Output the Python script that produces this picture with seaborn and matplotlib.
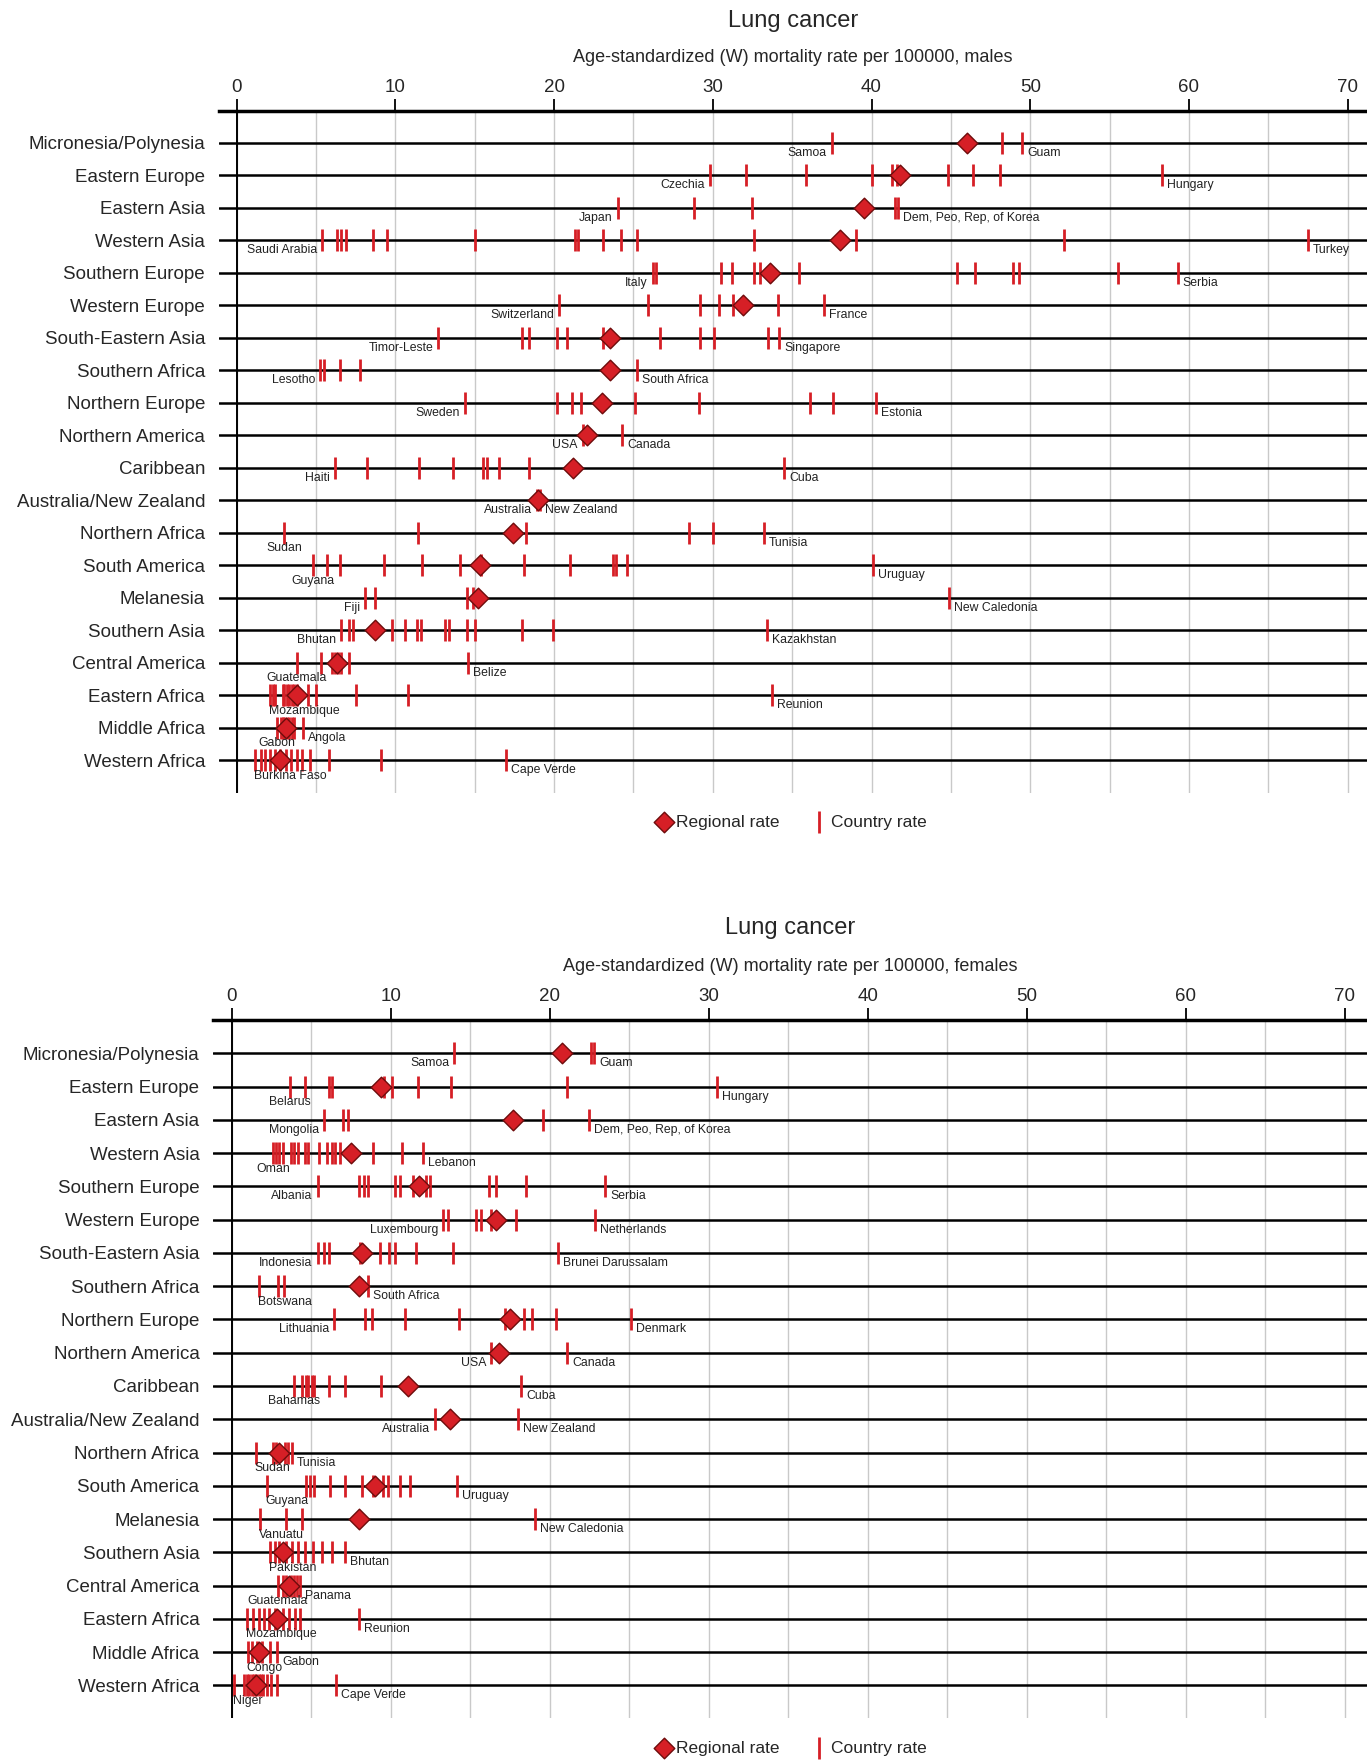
import pandas as pd
import matplotlib.pyplot as plt
import seaborn as sns
from matplotlib.ticker import MultipleLocator

# ---- data -------------------------------------------------------------
regions = ["Micronesia/Polynesia", "Eastern Europe", "Eastern Asia", "Western Asia",
           "Southern Europe", "Western Europe", "South-Eastern Asia", "Southern Africa",
           "Northern Europe", "Northern America", "Caribbean", "Australia/New Zealand",
           "Northern Africa", "South America", "Melanesia", "Southern Asia",
           "Central America", "Eastern Africa", "Middle Africa", "Western Africa"]

male_regional = [46.0, 41.8, 39.5, 38.0, 33.6, 31.9, 23.5, 23.5, 23.0, 22.1,
                 21.2, 19.0, 17.4, 15.3, 15.2, 8.7, 6.3, 3.8, 3.1, 2.7]
male_country = [
    [37.5, 48.2, 49.5],
    [29.8, 32.1, 35.9, 40.0, 41.3, 41.6, 44.8, 46.4, 48.1, 58.3],
    [24.0, 28.8, 32.5, 41.5, 41.7],
    [5.4, 6.3, 6.6, 6.9, 8.6, 9.5, 15.0, 21.3, 21.5, 23.1, 24.2, 25.2, 32.6, 39.0, 52.1, 67.5],
    [26.2, 26.4, 30.5, 31.2, 32.6, 33.0, 35.4, 45.4, 46.5, 48.9, 49.3, 55.5, 59.3],
    [20.3, 25.9, 29.2, 30.4, 31.3, 34.1, 37.0],
    [12.7, 18.0, 18.4, 20.2, 20.8, 23.1, 26.7, 29.2, 30.1, 33.5, 34.2],
    [5.25, 5.5, 6.5, 7.8, 25.2],
    [14.4, 20.2, 21.1, 21.7, 25.1, 29.1, 36.1, 37.6, 40.3],
    [21.8, 24.3],
    [6.2, 8.2, 11.5, 13.6, 15.5, 15.8, 16.5, 18.4, 34.5],
    [18.9, 19.1],
    [3.0, 11.4, 18.2, 28.5, 30.0, 33.2],
    [4.8, 5.7, 6.5, 9.3, 11.7, 14.1, 15.4, 18.1, 21.0, 23.7, 23.9, 24.6, 40.1],
    [8.1, 8.7, 14.5, 14.9, 44.9],
    [6.55, 7.1, 7.35, 9.8, 10.6, 11.35, 11.6, 13.1, 13.4, 14.5, 15.0, 18.0, 19.9, 33.4],
    [3.8, 5.3, 6.0, 6.2, 6.4, 6.6, 7.1, 14.6],
    [2.1, 2.3, 2.4, 2.9, 3.0, 3.2, 3.3, 3.5, 3.6, 3.8, 4.5, 5.0, 7.5, 10.8, 33.7],
    [2.55, 2.8, 2.9, 3.0, 3.2, 3.3, 3.5, 3.6, 4.2],
    [1.15, 1.5, 1.8, 2.1, 2.4, 2.7, 3.1, 3.4, 3.8, 4.1, 4.6, 5.8, 9.1, 17.0],
]
male_low = ["Samoa", "Czechia", "Japan", "Saudi Arabia", "Italy", "Switzerland",
            "Timor-Leste", "Lesotho", "Sweden", "USA", "Haiti", "Australia", "Sudan",
            "Guyana", "Fiji", "Bhutan", "Guatemala", "Mozambique", "Gabon", "Burkina Faso"]
male_high = ["Guam", "Hungary", "Dem, Peo, Rep, of Korea", "Turkey", "Serbia", "France",
             "Singapore", "South Africa", "Estonia", "Canada", "Cuba", "New Zealand",
             "Tunisia", "Uruguay", "New Caledonia", "Kazakhstan", "Belize", "Reunion",
             "Angola", "Cape Verde"]

female_regional = [20.8, 9.4, 17.7, 7.5, 11.8, 16.6, 8.2, 8.0, 17.5, 16.8,
                   11.1, 13.7, 3.0, 9.0, 8.0, 3.2, 3.6, 2.85, 1.7, 1.5]
female_country = [
    [14.0, 22.6, 22.8],
    [3.65, 4.6, 6.1, 6.3, 9.6, 10.1, 11.7, 13.8, 21.1, 30.5],
    [5.8, 7.0, 7.3, 19.6, 22.5],
    [2.6, 2.8, 3.0, 3.2, 3.7, 3.9, 4.2, 4.6, 4.8, 5.5, 6.0, 6.3, 6.5, 6.8, 8.9, 10.7, 12.0],
    [5.4, 8.0, 8.3, 8.6, 10.3, 10.6, 11.4, 12.2, 12.5, 16.2, 16.6, 18.5, 23.5],
    [13.3, 13.6, 15.35, 15.65, 16.3, 17.9, 22.85],
    [5.4, 5.8, 6.1, 8.1, 9.3, 9.9, 10.3, 11.6, 13.9, 20.5],
    [1.7, 2.9, 3.3, 8.6],
    [6.45, 8.4, 8.8, 10.9, 14.3, 17.2, 18.4, 18.9, 20.4, 25.1],
    [16.3, 21.1],
    [3.9, 4.45, 4.65, 4.8, 5.05, 5.2, 6.1, 7.1, 9.4, 18.2],
    [12.8, 18.0],
    [1.5, 2.6, 2.8, 3.35, 3.55, 3.8],
    [2.2, 4.65, 4.9, 5.2, 6.2, 7.1, 8.2, 8.9, 9.5, 9.8, 10.6, 11.2, 14.15],
    [1.75, 3.4, 4.45, 19.1],
    [2.4, 2.7, 3.0, 3.4, 3.8, 4.2, 4.6, 5.1, 5.7, 6.3, 7.15],
    [2.9, 3.2, 3.4, 3.7, 3.9, 4.1, 4.3],
    [0.95, 1.35, 1.7, 2.05, 2.35, 2.7, 3.2, 3.6, 3.95, 4.3, 8.0],
    [1.0, 1.3, 1.6, 1.9, 2.4, 2.85],
    [0.15, 0.8, 0.95, 1.1, 1.25, 1.4, 1.55, 1.7, 1.85, 2.0, 2.25, 2.5, 2.85, 6.55],
]
female_low = ["Samoa", "Belarus", "Mongolia", "Oman", "Albania", "Luxembourg",
              "Indonesia", "Botswana", "Lithuania", "USA", "Bahamas", "Australia", "Sudan",
              "Guyana", "Vanuatu", "Pakistan", "Guatemala", "Mozambique", "Congo", "Niger"]
female_high = ["Guam", "Hungary", "Dem, Peo, Rep, of Korea", "Lebanon", "Serbia",
               "Netherlands", "Brunei Darussalam", "South Africa", "Denmark", "Canada",
               "Cuba", "New Zealand", "Tunisia", "Uruguay", "New Caledonia", "Bhutan",
               "Panama", "Reunion", "Gabon", "Cape Verde"]

# ---- layout -----------------------------------------------------------
# where the low-end country name sits: L = left of tick, B = centred below, BL = below, from tick
male_low_mode = ["L"] * 12 + ["B", "B", "L", "L", "B", "BL", "B", "BL"]
female_low_mode = ["L", "B", "L", "B", "L", "L", "L", "BL", "L", "L", "B", "L",
                   "BL", "BL", "BL", "BL", "B", "BL", "BL", "BL"]

W, H = 1367, 1762
PX = 0.72  # points per pixel at dpi 100
RED = '#d61f26'
EDGE = '#6e0c0c'

sns.set_style("white")
plt.rcParams['font.family'] = ['Liberation Sans', 'DejaVu Sans']

fig = plt.figure(figsize=(W / 100, H / 100), dpi=100)

offsets = {'L': ((-5, -10), 'right'), 'R': ((5, -10), 'left'),
           'B': ((0, -15.5), 'center'), 'BL': ((-1, -15.5), 'left')}


def panel(ax, country, regional, low, high, low_mode, xlim, ylim):
    rows = [i for i, v in enumerate(country) for _ in v]
    rates = [x for v in country for x in v]
    dfc = pd.DataFrame({'row': rows, 'rate': rates})
    dfr = pd.DataFrame({'row': list(range(len(regions))), 'rate': regional})
    sns.scatterplot(data=dfc, x='rate', y='row', marker='|', s=250, linewidth=2.0,
                    color=RED, label='Country rate', legend=False, ax=ax, zorder=3)
    sns.scatterplot(data=dfr, x='rate', y='row', marker='D', s=110, color=RED,
                    edgecolor=EDGE, linewidth=1.0, label='Regional rate', legend=False,
                    ax=ax, zorder=4)
    for i, vals in enumerate(country):
        (dx, dy), ha = offsets[low_mode[i]]
        ax.annotate(low[i], (min(vals), i), xytext=(dx * PX, dy * PX),
                    textcoords='offset points', ha=ha, va='center', fontsize=8.8,
                    color='#222222', zorder=5)
        (dx, dy), ha = offsets['R']
        ax.annotate(high[i], (max(vals), i), xytext=(dx * PX, dy * PX),
                    textcoords='offset points', ha=ha, va='center', fontsize=8.8,
                    color='#222222', zorder=5)

    ax.set_xlim(*xlim)
    ax.set_ylim(*ylim)
    ax.set_xlabel('')
    ax.set_ylabel('')
    ax.set_yticks(range(len(regions)))
    ax.set_yticklabels(regions)
    ax.xaxis.set_major_locator(MultipleLocator(10))
    ax.xaxis.set_minor_locator(MultipleLocator(5))
    ax.set_xticks(range(0, 71, 10))
    ax.set_axisbelow(True)
    ax.grid(axis='x', which='both', color='#c9c9c9', lw=1.0)
    ax.grid(axis='y', which='major', color='black', lw=1.8)
    ax.axvline(0, color='black', lw=1.4, zorder=2)
    ax.tick_params(axis='x', which='major', top=True, bottom=False, labeltop=True,
                   labelbottom=False, length=9, width=1.3, direction='out', pad=1.5,
                   labelsize=13.5, color='black')
    ax.tick_params(axis='x', which='minor', length=0, top=False, bottom=False)
    ax.tick_params(axis='y', length=0, pad=10, labelsize=13.5)
    for side in ['left', 'right', 'bottom']:
        ax.spines[side].set_visible(False)
    ax.spines['top'].set_linewidth(2.5)
    ax.spines['top'].set_color('black')


def legend(ax, y):
    handles, labels = ax.get_legend_handles_labels()
    order = [labels.index('Regional rate'), labels.index('Country rate')]
    fig.legend([handles[k] for k in order], [labels[k] for k in order],
               loc='center', bbox_to_anchor=(791 / W, 1 - y / H), ncol=2,
               frameon=False, fontsize=12.5, handletextpad=0.2, columnspacing=1.8,
               handlelength=1.0)


# males
ax1 = fig.add_axes([219 / W, 1 - 793 / H, 1 - 219 / W, (793 - 111) / H])
panel(ax1, male_country, male_regional, male_low, male_high, male_low_mode,
      (-1.115, 71.22), (20.01, -0.975))
fig.text(793 / W, 1 - 21 / H, 'Lung cancer', ha='center', va='center', fontsize=17)
fig.text(793 / W, 1 - 58 / H, 'Age-standardized (W) mortality rate per 100000, males',
         ha='center', va='center', fontsize=13)
legend(ax1, 822)

# females
ax2 = fig.add_axes([213.3 / W, 1 - 1718 / H, 1 - 213.3 / W, (1718 - 1020) / H])
panel(ax2, female_country, female_regional, female_low, female_high, female_low_mode,
      (-1.157, 71.4), (19.98, -1.0))
fig.text(790 / W, 1 - 928 / H, 'Lung cancer', ha='center', va='center', fontsize=17)
fig.text(790 / W, 1 - 966.7 / H, 'Age-standardized (W) mortality rate per 100000, females',
         ha='center', va='center', fontsize=13)
legend(ax2, 1748)

fig.savefig('out.png', dpi=100)
